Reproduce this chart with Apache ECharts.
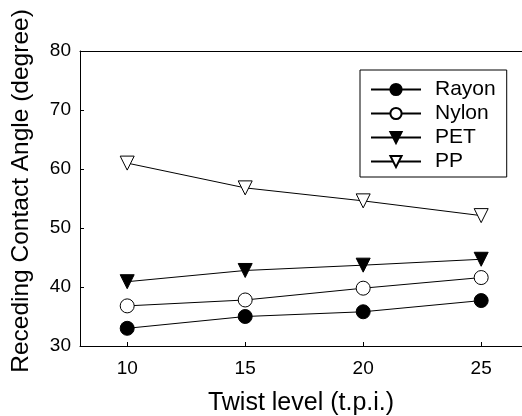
<!DOCTYPE html>
<html lang="en">
<head>
    <meta charset="UTF-8">
    <title>Receding contact angle</title>
    <style>
        html, body { margin: 0; padding: 0; background: #fff; }
    </style>
</head>
<body>
<script src="https://cdn.jsdelivr.net/npm/echarts@6/dist/echarts.min.js"></script>

<div id="main" style="width: 522px;height:416px;"></div>
<script type="text/javascript">

var twist = [10, 15, 20, 25];
var xTicks = [10, 15, 20, 25];
var rayon = [33, 35, 35.8, 37.7];
var nylon = [36.8, 37.8, 39.8, 41.6];
var pet = [40.9, 42.8, 43.7, 44.7];
var pp = [61, 56.8, 54.6, 52.1];

var font = 'Liberation Sans, Arial, sans-serif';

function pairs(ys) {
    var out = [];
    for (var i = 0; i < twist.length; i++) {
        out.push([twist[i], ys[i]]);
    }
    return out;
}

function lineSeries(name, ys, symbol, rotate, fill) {
    return {
        name: name,
        type: 'line',
        data: pairs(ys),
        symbol: symbol,
        symbolSize: 14,
        symbolRotate: rotate,
        showAllSymbol: true,
        lineStyle: {color: '#000', width: 1},
        itemStyle: {color: fill, borderColor: '#000', borderWidth: 1},
        emphasis: {disabled: true},
        z: 3
    };
}

var myChart = echarts.init(document.getElementById('main'));

myChart.setOption({
    animation: false,
    textStyle: {fontFamily: font, color: '#000'},
    grid: {left: 80, top: 51, right: 0, bottom: 70, outerBoundsMode: 'none'},
    legend: {
        orient: 'vertical',
        left: 360,
        top: 70,
        padding: [9, 11, 5, 10],
        itemWidth: 50,
        itemHeight: 14,
        itemGap: 3,
        borderColor: '#000',
        borderWidth: 1,
        textStyle: {fontSize: 21, fontFamily: font, color: '#000', padding: [0, 0, 0, 9]},
        data: ['Rayon', 'Nylon', 'PET', 'PP']
    },
    xAxis: [{
        type: 'value',
        min: 8,
        max: 26.73,
        name: 'Twist level (t.p.i.)',
        nameLocation: 'middle',
        nameGap: 45,
        nameTextStyle: {fontSize: 25, fontFamily: font, color: '#000'},
        axisLine: {onZero: false, lineStyle: {color: '#000', width: 1}},
        axisTick: {inside: true, length: 4, customValues: xTicks, lineStyle: {color: '#000'}},
        axisLabel: {margin: 13, fontSize: 19, fontFamily: font, color: '#000', customValues: xTicks},
        splitLine: {show: false}
    }, {
        type: 'value',
        position: 'top',
        min: 8,
        max: 26.73,
        axisLine: {show: true, onZero: false, lineStyle: {color: '#000', width: 1}},
        axisTick: {show: false},
        axisLabel: {show: false},
        splitLine: {show: false}
    }],
    yAxis: {
        type: 'value',
        min: 30,
        max: 80,
        interval: 10,
        name: 'Receding Contact Angle (degree)',
        nameLocation: 'middle',
        nameGap: 46,
        nameTextStyle: {fontSize: 24.5, fontFamily: font, color: '#000', padding: [0, 0, 0, 15]},
        axisLine: {show: true, onZero: false, lineStyle: {color: '#000', width: 1}},
        axisTick: {inside: true, length: 4, lineStyle: {color: '#000'}},
        axisLabel: {margin: 9, fontSize: 19, fontFamily: font, color: '#000'},
        splitLine: {show: false}
    },
    series: [
        lineSeries('Rayon', rayon, 'circle', 0, '#000'),
        lineSeries('Nylon', nylon, 'circle', 0, '#fff'),
        lineSeries('PET', pet, 'triangle', 180, '#000'),
        lineSeries('PP', pp, 'triangle', 180, '#fff')
    ]
});

</script>
</body>
</html>
